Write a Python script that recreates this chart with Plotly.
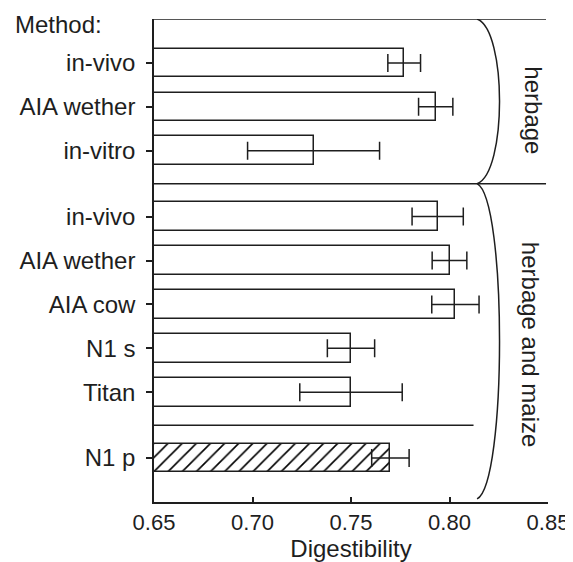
import plotly.graph_objects as go

# ---- data ----
methods = ["in-vivo", "AIA wether", "in-vitro",
           "in-vivo", "AIA wether", "AIA cow", "N1 s", "Titan", "N1 p"]
groups = ["herbage"] * 3 + ["herbage and maize"] * 6
digestibility = [0.777, 0.793, 0.731, 0.794, 0.800, 0.803, 0.750, 0.750, 0.770]
errors = [0.0083, 0.0087, 0.0335, 0.013, 0.0088, 0.012, 0.012, 0.026, 0.0095]
hatched = [False] * 8 + [True]
x_ticks = [0.65, 0.70, 0.75, 0.80, 0.85]
x_tick_labels = ["0.65", "0.70", "0.75", "0.80", "0.85"]

# ---- layout of rows (computed) ----
positions = []
separators = []
p = 1.0
for i in range(len(methods)):
    if i > 0:
        if groups[i] != groups[i - 1] or hatched[i] != hatched[i - 1]:
            separators.append((p + 0.75, groups[i] != groups[i - 1]))
            p += 1.5
        else:
            p += 1.0
    positions.append(p)
y_max = positions[-1] + 1.0

INK = "#1e1e1e"
FONT = "Liberation Sans, Arial, Helvetica, sans-serif"

fig = go.Figure()
fig.add_trace(go.Bar(
    x=digestibility, y=positions, base=0, orientation="h",
    width=0.65,
    marker=dict(
        color="white",
        line=dict(color=INK, width=1.5),
        pattern=dict(shape=["/" if h else "" for h in hatched],
                     fgcolor="#000000", bgcolor="white", fgopacity=1,
                     size=10, solidity=0.16),
    ),
    error_x=dict(type="data", array=errors, color=INK, thickness=1.5, width=9),
    showlegend=False,
))

shapes = []
# top frame line
shapes.append(dict(type="line", xref="x", yref="y", x0=0.65, x1=0.849, y0=0, y1=0,
                   line=dict(color=INK, width=1.5)))
for (yy, full) in separators:
    shapes.append(dict(type="line", xref="x", yref="y", x0=0.65,
                       x1=0.849 if full else 0.8122, y0=yy, y1=yy,
                       line=dict(color=INK, width=1.5)))

# group brackets ")"
group_spans = [(0.0, separators[0][0]), (separators[0][0], y_max - 0.07)]
bx0, bxc = 0.8140, 0.8292
for (ya, yb) in group_spans:
    d = 0.25 if yb - ya < 5 else 0.35
    path = f"M {bx0},{ya} C {bxc},{ya + d} {bxc},{yb - d} {bx0},{yb}"
    shapes.append(dict(type="path", xref="x", yref="y", path=path,
                       line=dict(color=INK, width=1.5)))

annotations = [
    dict(text="herbage", x=0.8426, y=2.09, xref="x", yref="y", showarrow=False,
         textangle=90, font=dict(size=24, color=INK, family=FONT)),
    dict(text="herbage and maize", x=0.8409, y=7.4, xref="x", yref="y",
         showarrow=False, textangle=90, font=dict(size=24, color=INK, family=FONT)),
    dict(text="Method:", xref="paper", yref="paper", x=-0.359, y=0.988,
         xanchor="left", yanchor="middle", showarrow=False,
         font=dict(size=24, color=INK, family=FONT)),
]

# the page adds an 8 px body margin, so the figure is 8 px smaller than the window
fig.update_layout(
    width=565, height=554,
    margin=dict(l=146, r=25, t=11, b=60, autoexpand=False),
    paper_bgcolor="white", plot_bgcolor="white",
    font=dict(family=FONT, color=INK),
    shapes=shapes, annotations=annotations,
    bargap=0,
)
fig.update_xaxes(
    range=[0.65, 0.85], tickvals=x_ticks, ticktext=x_tick_labels,
    showline=True, linecolor=INK, linewidth=1.5,
    ticks="inside", ticklen=5, tickwidth=1.5, tickcolor=INK,
    tickfont=dict(size=22, color=INK, family=FONT),
    showgrid=False, zeroline=False, automargin=False,
    title=dict(text="Digestibility", font=dict(size=24, color=INK, family=FONT),
               standoff=6),
)
fig.update_yaxes(
    range=[y_max, 0], tickvals=positions, ticktext=methods,
    showline=True, linecolor=INK, linewidth=1.5,
    ticks="outside", ticklen=6, tickwidth=1.5, tickcolor=INK,
    tickfont=dict(size=24, color=INK, family=FONT),
    ticklabelstandoff=6,
    showgrid=False, zeroline=False, automargin=False,
)

fig.write_html("out.html")
